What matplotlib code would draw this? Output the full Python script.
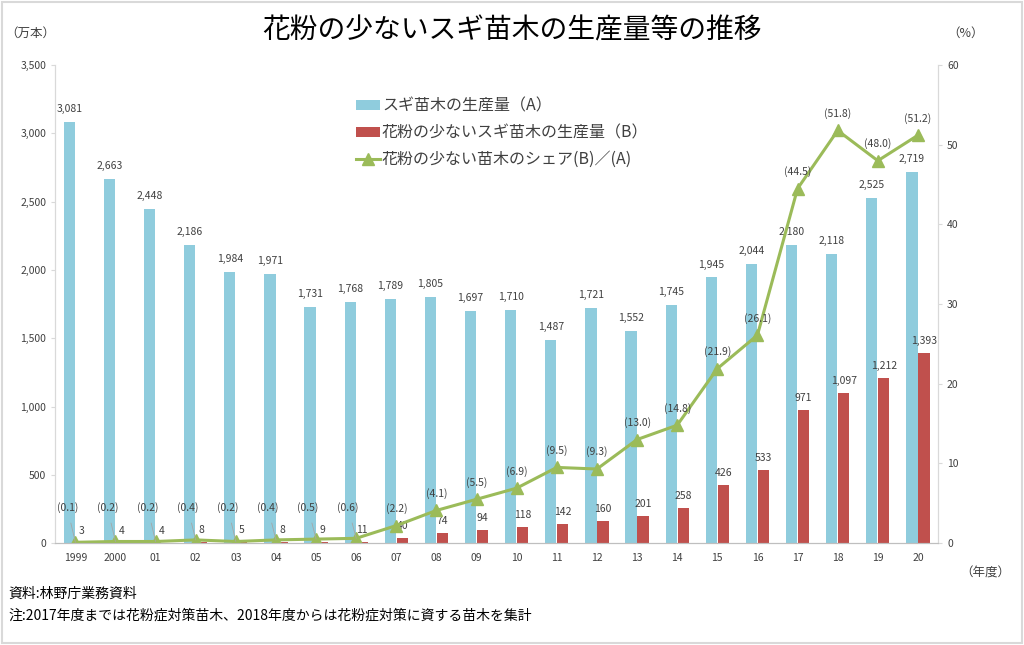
import matplotlib.pyplot as plt
import numpy as np
from matplotlib.ticker import FuncFormatter, MultipleLocator
from matplotlib.patches import Rectangle

plt.rcParams['font.family'] = ['Noto Sans CJK JP', 'DejaVu Sans']

# --- data ---
years = ['1999', '2000', '01', '02', '03', '04', '05', '06', '07', '08', '09',
         '10', '11', '12', '13', '14', '15', '16', '17', '18', '19', '20']
sugi_total = [3081, 2663, 2448, 2186, 1984, 1971, 1731, 1768, 1789, 1805, 1697,
              1710, 1487, 1721, 1552, 1745, 1945, 2044, 2180, 2118, 2525, 2719]
low_pollen = [3, 4, 4, 8, 5, 8, 9, 11, 40, 74, 94,
              118, 142, 160, 201, 258, 426, 533, 971, 1097, 1212, 1393]
share = [0.1, 0.2, 0.2, 0.4, 0.2, 0.4, 0.5, 0.6, 2.2, 4.1, 5.5,
         6.9, 9.5, 9.3, 13.0, 14.8, 21.9, 26.1, 44.5, 51.8, 48.0, 51.2]

blue = '#8FCCDD'
red = '#C0504D'
green = '#9BBB59'
txt = '#404040'

fig = plt.figure(figsize=(10.24, 6.45), dpi=100)
fig.patches.append(Rectangle((0.002, 0.003), 0.996, 0.994, transform=fig.transFigure,
                             fill=False, edgecolor='#d9d9d9', linewidth=1.5))
ax = fig.add_axes([0.054, 0.158, 0.862, 0.741])
ax2 = ax.twinx()

x = np.arange(len(years))
w = 0.28
b1 = ax.bar(x - w / 2 - 0.01, sugi_total, w, color=blue, label='スギ苗木の生産量（A）')
b2 = ax.bar(x + w / 2 + 0.01, low_pollen, w, color=red, label='花粉の少ないスギ苗木の生産量（B）')

for xi, v in zip(x, sugi_total):
    ax.annotate(f'{v:,}', (xi - w / 2 - 0.01, v), xytext=(0, 13), textcoords='offset pixels',
                ha='center', va='center', fontsize=7.5, color=txt)
for xi, v in zip(x, low_pollen):
    ax.annotate(f'{v:,}', (xi + w / 2 + 0.01, v), xytext=(0, 12), textcoords='offset pixels',
                ha='center', va='center', fontsize=7.5, color=txt)

ln, = ax2.plot(x, share, color=green, linewidth=2.2, marker='^', markersize=8,
               label='花粉の少ない苗木のシェア(B)／(A)')

for xi, v in zip(x, share):
    if v < 1:
        ax2.annotate(f'({v:.1f})', (xi, v), xytext=(xi - 0.2, 4.4), textcoords='data',
                     ha='center', va='center', fontsize=7.5, color=txt,
                     arrowprops=dict(arrowstyle='-', color='#a6a6a6', lw=0.6,
                                     shrinkA=5, shrinkB=0))
    else:
        ax2.annotate(f'({v:.1f})', (xi, v), xytext=(0, 17), textcoords='offset pixels',
                     ha='center', va='center', fontsize=7.5, color=txt)

ax.set_xlim(-0.5, len(years) - 0.5)
ax.set_ylim(0, 3500)
ax2.set_ylim(0, 60)
ax.yaxis.set_major_locator(MultipleLocator(500))
ax.yaxis.set_major_formatter(FuncFormatter(lambda v, p: f'{int(v):,}'))
ax2.yaxis.set_major_locator(MultipleLocator(10))
ax.set_xticks(x)
ax.set_xticklabels(years)

for a in (ax, ax2):
    a.spines['top'].set_visible(False)
    a.spines['left'].set_color('#d9d9d9')
    a.spines['right'].set_color('#d9d9d9')
    a.spines['bottom'].set_color('#bfbfbf')
    a.tick_params(axis='both', labelsize=7.5, colors=txt, length=3)
    a.tick_params(axis='y', color='#d9d9d9')
ax.tick_params(axis='x', length=0, pad=7)

leg = ax2.legend([b1, b2, ln], [b1.get_label(), b2.get_label(), ln.get_label()],
                 loc='upper left', bbox_to_anchor=(0.333, 0.945), frameon=False,
                 fontsize=11.5, handlelength=1.5, handleheight=0.6, labelspacing=0.6,
                 handletextpad=0.15, borderaxespad=0)
for t in leg.get_texts():
    t.set_color(txt)

fig.text(0.5, 0.953, '花粉の少ないスギ苗木の生産量等の推移', ha='center', va='center',
         fontsize=20, color='black')
fig.text(0.03, 0.949, '（万本）', ha='center', va='center', fontsize=9, color=txt)
fig.text(0.943, 0.949, '（%）', ha='center', va='center', fontsize=9, color=txt)
fig.text(0.962, 0.111, '（年度）', ha='center', va='center', fontsize=9, color=txt)
fig.text(0.008, 0.08, '資料:林野庁業務資料', ha='left', va='center', fontsize=10, color='black')
fig.text(0.008, 0.045, '注:2017年度までは花粉症対策苗木、2018年度からは花粉症対策に資する苗木を集計',
         ha='left', va='center', fontsize=10, color='black')

fig.savefig('out.png', dpi=100)
